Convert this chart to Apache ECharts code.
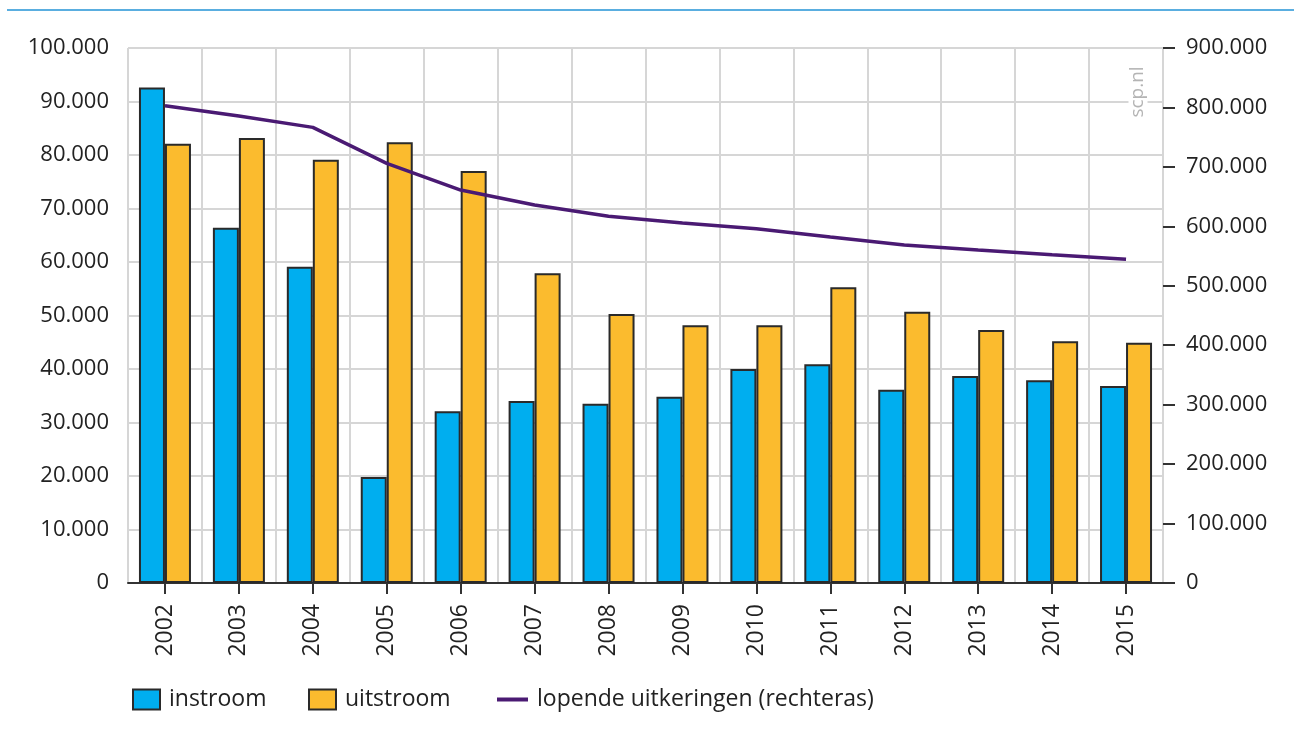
<!DOCTYPE html>
<html>
<head>
<meta charset="utf-8">
<script src="https://cdn.jsdelivr.net/npm/echarts@6/dist/echarts.min.js"></script>
<style>
  html, body { margin: 0; padding: 0; background: #fff; }
  #chart { width: 1294px; height: 738px; }
</style>
</head>
<body>
<div id="chart"></div>
<script>
// jaren
var years = ['2002', '2003', '2004', '2005', '2006', '2007', '2008', '2009', '2010', '2011', '2012', '2013', '2014', '2015'];
// instroom / uitstroom (linkeras)
var instroom = [92600, 66400, 59100, 19800, 32100, 34000, 33500, 34800, 40000, 40900, 36100, 38700, 37900, 36800];
var uitstroom = [82100, 83200, 79100, 82400, 77000, 57900, 50300, 48200, 48200, 55300, 50700, 47300, 45200, 44900];
// lopende uitkeringen (rechteras)
var lopend = [803000, 785500, 766500, 706000, 661000, 636000, 617000, 605500, 596000, 582000, 568500, 560000, 552000, 544500];

var fontFam = '"Open Sans", "Noto Sans", sans-serif';

/**
 * getal met punt als duizendtal scheiding
 */
function fmt(v) {
    return String(v).replace(/\B(?=(\d{3})+(?!\d))/g, '.');
}

var legendText = { fontSize: 23, color: '#222', fontFamily: fontFam, padding: [0, 0, 0, 4] };

var myChart = echarts.init(document.getElementById('chart'));

var option = {
    animation: false,
    textStyle: { fontFamily: fontFam },
    grid: { left: 128, right: 131, top: 48, bottom: 155 },
    graphic: [
        {
            type: 'line',
            shape: { x1: 7, y1: 10, x2: 1294, y2: 10 },
            style: { stroke: '#5aaee0', lineWidth: 2 }
        },
        {
            type: 'text',
            x: 1138, y: 92,
            rotation: Math.PI / 2,
            style: {
                text: 'scp.nl', fill: '#b4b4b4', font: '19px ' + fontFam,
                align: 'center', verticalAlign: 'middle',
                backgroundColor: '#fff'
            },
            z: 100
        }
    ],
    legend: [
        {
            data: [{ name: 'instroom', icon: 'rect' }], left: 127, top: 683,
            itemWidth: 27, itemHeight: 20,
            textStyle: legendText
        },
        {
            data: [{ name: 'uitstroom', icon: 'rect' }], left: 303, top: 683,
            itemWidth: 27, itemHeight: 20,
            textStyle: legendText
        },
        {
            data: [{ name: 'lopende uitkeringen (rechteras)', icon: 'rect' }], left: 492, top: 683,
            itemWidth: 31, itemHeight: 4,
            textStyle: legendText
        }
    ],
    xAxis: {
        type: 'category',
        data: years,
        axisLine: { show: true, lineStyle: { color: '#333', width: 2 } },
        axisTick: { show: true, alignWithLabel: true, length: 11, lineStyle: { color: '#333', width: 2 } },
        axisLabel: { rotate: 90, margin: 21, fontSize: 23, color: '#222', fontFamily: fontFam },
        splitLine: { show: true, lineStyle: { color: '#d6d6d6', width: 2 } }
    },
    yAxis: [
        {
            type: 'value', min: 0, max: 100000, interval: 10000,
            axisLine: { show: false },
            axisTick: { show: false },
            axisLabel: { margin: 19, fontSize: 22, color: '#222', fontFamily: fontFam, formatter: fmt },
            splitLine: { show: true, lineStyle: { color: '#d6d6d6', width: 2 } }
        },
        {
            type: 'value', min: 0, max: 900000, interval: 100000,
            position: 'right',
            axisLine: { show: false },
            axisTick: { show: true, length: 12, lineStyle: { color: '#333', width: 2 } },
            axisLabel: { margin: 23, fontSize: 22, color: '#222', fontFamily: fontFam, formatter: fmt },
            splitLine: { show: false }
        }
    ],
    series: [
        {
            name: 'instroom', type: 'bar', data: instroom,
            barWidth: 26, barGap: '0%',
            itemStyle: { color: '#00aeef', borderColor: '#2a2a2a', borderWidth: 2 }
        },
        {
            name: 'uitstroom', type: 'bar', data: uitstroom,
            barWidth: 26, barGap: '0%',
            itemStyle: { color: '#fbbb2e', borderColor: '#2a2a2a', borderWidth: 2 }
        },
        {
            name: 'lopende uitkeringen (rechteras)', type: 'line', yAxisIndex: 1, data: lopend,
            symbol: 'none', showSymbol: false,
            lineStyle: { color: '#4a1a73', width: 3.5 },
            itemStyle: { color: '#4a1a73' },
            z: 5
        }
    ]
};

myChart.setOption(option);
</script>
</body>
</html>
